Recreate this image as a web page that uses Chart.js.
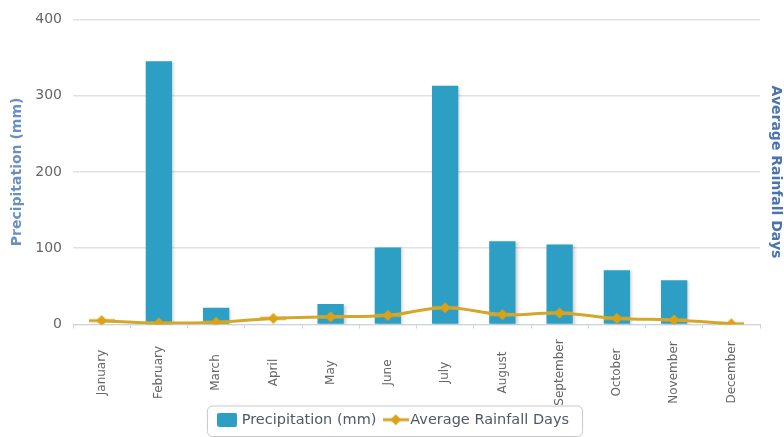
<!DOCTYPE html>
<html>
<head>
<meta charset="utf-8">
<script src="https://cdn.jsdelivr.net/npm/chart.js@4"></script>
<style>
  html, body { margin: 0; padding: 0; background: #fff; }
  #wrap { width: 784px; height: 437px; }
</style>
</head>
<body>
<div id="wrap"><canvas id="c" width="784" height="437"></canvas></div>
<script>
const months = ["January","February","March","April","May","June","July","August","September","October","November","December"];
const precipitation = [0, 345, 22, 0, 27, 101, 313, 109, 105, 71, 58, 0];
const rainfallDays = [5, 2, 3, 8, 10, 12, 22, 13, 15, 8, 6, 1];
const yTicks = [0, 100, 200, 300, 400];

const barColor = '#2e9fc4';
const lineColor = '#d3a62c';
const pointColor = '#dca114';

// legend marker: line with diamond
const mk = document.createElement('canvas');
mk.width = 26; mk.height = 14;
(function(){
  const g = mk.getContext('2d');
  g.strokeStyle = lineColor; g.lineWidth = 3;
  g.beginPath(); g.moveTo(0,7); g.lineTo(26,7); g.stroke();
  g.fillStyle = pointColor;
  g.beginPath(); g.moveTo(13,1.5); g.lineTo(18.5,7); g.lineTo(13,12.5); g.lineTo(7.5,7); g.closePath(); g.fill();
})();
const mkRect = document.createElement('canvas');
mkRect.width = 20; mkRect.height = 14;
(function(){
  const g = mkRect.getContext('2d');
  g.fillStyle = barColor;
  g.beginPath(); g.roundRect ? g.roundRect(0,0,20,14,2) : g.rect(0,0,20,14); g.fill();
})();

const legendBorder = {
  id: 'legendBorder',
  afterDraw(chart) {
    const lg = chart.legend;
    if (!lg || !lg.legendHitBoxes || !lg.legendHitBoxes.length) return;
    const boxes = lg.legendHitBoxes;
    let l = Infinity, r = -Infinity, t = Infinity, b = -Infinity;
    boxes.forEach(h => { l = Math.min(l, h.left); r = Math.max(r, h.left + h.width); t = Math.min(t, h.top); b = Math.max(b, h.top + h.height); });
    const ctx = chart.ctx;
    ctx.save();
    ctx.strokeStyle = '#c8c8c8';
    ctx.lineWidth = 1;
    ctx.beginPath();
    const x = l - 13, y = t - 7, w = (r - l) + 26, h = (b - t) + 16;
    if (ctx.roundRect) ctx.roundRect(x + 0.5, y + 0.5, w, h, 5); else ctx.rect(x + 0.5, y + 0.5, w, h);
    ctx.stroke();
    ctx.restore();
  }
};

// x labels rotated, centred vertically in the label band (as in the reference)
const centeredXLabels = {
  id: 'centeredXLabels',
  afterDraw(chart) {
    const sc = chart.scales.x;
    const ctx = chart.ctx;
    const cy = sc.top + 48;
    ctx.save();
    ctx.fillStyle = '#666';
    ctx.font = '12px "DejaVu Sans", sans-serif';
    ctx.textAlign = 'center';
    ctx.textBaseline = 'middle';
    sc.ticks.forEach((t, i) => {
      const x = sc.getPixelForTick(i);
      ctx.save();
      ctx.translate(x, cy);
      ctx.rotate(-Math.PI / 2);
      ctx.fillText(chart.data.labels[i], 0, 0);
      ctx.restore();
    });
    ctx.restore();
  }
};

const barShadow = {
  id: 'barShadow',
  beforeDatasetDraw(chart, args) {
    if (args.index === 1) {
      const ctx = chart.ctx;
      ctx.save();
      ctx.shadowColor = 'rgba(0,0,0,0.18)';
      ctx.shadowOffsetX = 2; ctx.shadowOffsetY = 1; ctx.shadowBlur = 3;
    }
  },
  afterDatasetDraw(chart, args) {
    if (args.index === 1) chart.ctx.restore();
  }
};

Chart.defaults.font.family = '"DejaVu Sans", sans-serif';

new Chart(document.getElementById('c'), {
  type: 'bar',
  data: {
    labels: months,
    datasets: [
      {
        type: 'line',
        label: 'Average Rainfall Days',
        data: rainfallDays,
        yAxisID: 'y1',
        borderColor: lineColor,
        borderWidth: 3,
        tension: 0.4,
        pointRadius: 5,
        pointBackgroundColor: pointColor,
        pointBorderColor: pointColor,
        pointBorderWidth: 0,
        pointStyle: mk,
        order: 0
      },
      {
        type: 'bar',
        label: 'Precipitation (mm)',
        data: precipitation,
        yAxisID: 'y',
        backgroundColor: barColor,
        barPercentage: 0.46,
        categoryPercentage: 1.0,
        pointStyle: mkRect,
        order: 1
      }
    ]
  },
  options: {
    responsive: false,
    animation: false,
    layout: { padding: { top: 12, left: 5, right: 0, bottom: 0 } },
    plugins: {
      title: { display: false },
      tooltip: { enabled: false },
      legend: {
        position: 'bottom',
        reverse: true,
        labels: {
          usePointStyle: true,
          color: '#4d5a66',
          font: { size: 14.5 },
          padding: 12,
          boxHeight: 14
        }
      }
    },
    scales: {
      x: {
        offset: true,
        grid: { display: true, drawOnChartArea: false, drawTicks: true, tickLength: 4, color: '#c8d4e0', offset: true },
        border: { display: true, color: '#c8d4e0' },
        ticks: { display: false },
        afterFit(scale) { scale.height = 76; }
      },
      y: {
        position: 'left',
        min: 0, max: 400,
        afterBuildTicks(axis) { axis.ticks = yTicks.map(v => ({ value: v })); },
        afterFit(scale) { scale.width = 68; },
        grid: { color: '#e2e2e2', lineWidth: 1.5, drawTicks: false },
        border: { display: false },
        ticks: { color: '#666', font: { size: 14 }, padding: 11 },
        title: { display: true, text: 'Precipitation (mm)', color: '#6a8fc4', font: { size: 14, weight: 'bold' }, padding: { top: 4, bottom: 4 } }
      },
      y1: {
        position: 'right',
        min: 0, max: 400,
        afterFit(scale) { scale.width = 24; },
        grid: { display: false, drawTicks: false },
        border: { display: false },
        ticks: { display: false },
        title: { display: true, text: 'Average Rainfall Days', color: '#4a74ad', font: { size: 14, weight: 'bold' }, padding: { top: 0, bottom: 4 } }
      }
    }
  },
  plugins: [legendBorder, centeredXLabels, barShadow]
});
</script>
</body>
</html>
